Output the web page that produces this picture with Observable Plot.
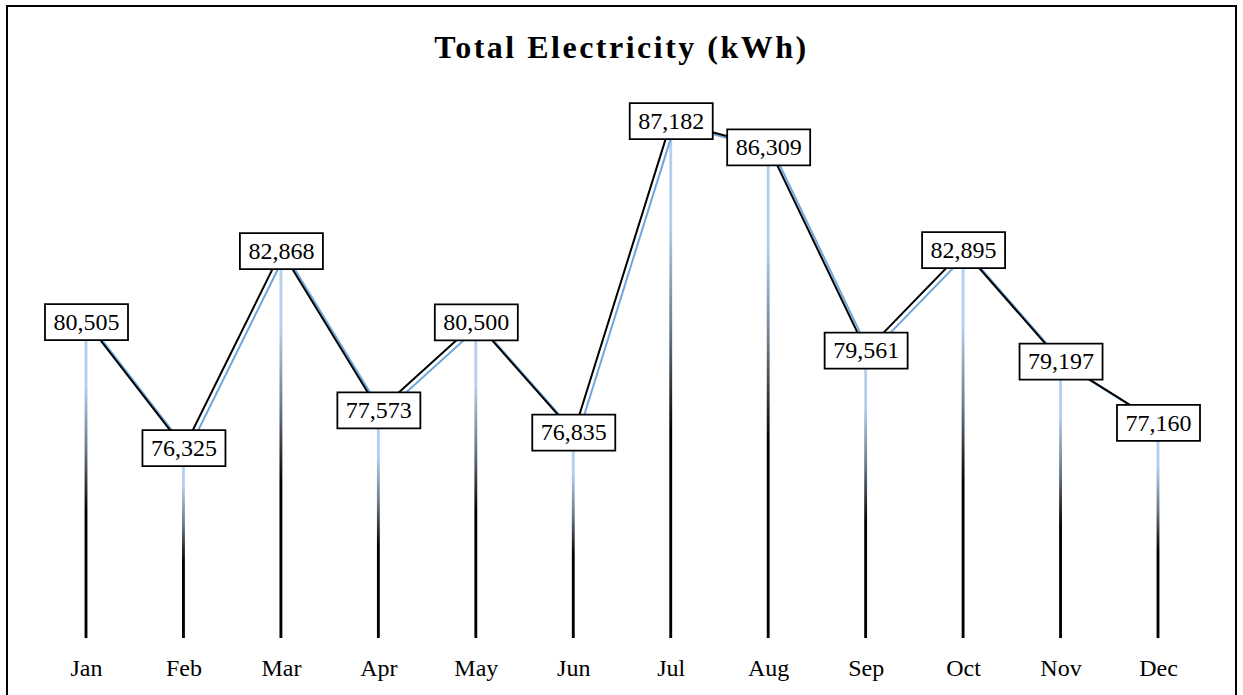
<!DOCTYPE html>
<html>
<head>
<meta charset="utf-8">
<script src="https://cdn.jsdelivr.net/npm/d3@7"></script>
<script src="https://cdn.jsdelivr.net/npm/@observablehq/plot@0.6"></script>
<style>
  html, body { margin: 0; padding: 0; background: #fff; }
  #wrap { position: relative; width: 1243px; height: 695px; overflow: hidden; }
  #frame { position: absolute; left: 6px; top: 5px; width: 1227px; height: 720px; border: 2px solid #000; box-sizing: content-box; pointer-events: none; }
  #title { position: absolute; left: 0; width: 1243px; top: 31px; line-height: 32px; text-align: center;
           font-family: "Liberation Serif", "Times New Roman", serif; font-weight: bold; font-size: 32px; letter-spacing: 2.5px; color: #000; }
  #chart { position: absolute; left: 0; top: 0; }
  #chart svg text { font-family: "Liberation Serif", "Times New Roman", serif; }
</style>
</head>
<body>
<div id="wrap">
  <div id="chart"></div>
  <div id="title">Total Electricity (kWh)</div>
  <div id="frame"></div>
</div>
<script>
const months = ["Jan", "Feb", "Mar", "Apr", "May", "Jun", "Jul", "Aug", "Sep", "Oct", "Nov", "Dec"];
const electricity = [80505, 76325, 82868, 77573, 80500, 76835, 87182, 86309, 79561, 82895, 79197, 77160];
const yDomain = [70000, 88000];

const data = months.map((m, i) => ({i, month: m, value: electricity[i]}));
const fmt = d3.format(",");
const serif = "'Liberation Serif', 'Times New Roman', serif";

const boxSymbol = {
  draw(context) {
    context.moveTo(-41.5, -18);
    context.lineTo(41.5, -18);
    context.lineTo(41.5, 18);
    context.lineTo(-41.5, 18);
    context.closePath();
  }
};

const defs = () => {
  const d = d3.create("svg:defs");
  const g = d.append("linearGradient").attr("id", "drop")
    .attr("x1", 0).attr("y1", 0).attr("x2", 0).attr("y2", 1);
  g.append("stop").attr("offset", 0).attr("stop-color", "#b3d1ef");
  g.append("stop").attr("offset", 0.2).attr("stop-color", "#b3d1ef");
  g.append("stop").attr("offset", 0.4).attr("stop-color", "#6c7b8a");
  g.append("stop").attr("offset", 0.6).attr("stop-color", "#000");
  g.append("stop").attr("offset", 1).attr("stop-color", "#000");
  return d.node();
};

const chart = Plot.plot({
  width: 1243,
  height: 695,
  marginLeft: 86,
  marginRight: 85,
  marginTop: 96,
  marginBottom: 57,
  style: {fontFamily: serif, fontSize: "24px", color: "#000", background: "transparent"},
  x: {domain: [0, 11], ticks: 12, tickFormat: i => months[i], tickSize: 0, tickPadding: 20, label: null},
  y: {domain: yDomain, axis: null},
  marks: [
    defs,
    Plot.rect(data, {x1: d => d.i - 0.5, x2: d => d.i + 0.5, y1: yDomain[0], y2: "value",
      insetLeft: 47.3, insetRight: 47.3, fill: "url(#drop)"}),
    Plot.line(data, {x: "i", y: "value", stroke: "#6ea7de", strokeWidth: 2, dx: 4, dy: 3}),
    Plot.line(data, {x: "i", y: "value", stroke: "#000", strokeWidth: 2}),
    Plot.dot(data, {x: "i", y: "value", symbol: boxSymbol, fill: "#fff", stroke: "#000", strokeWidth: 1.8}),
    Plot.text(data, {x: "i", y: "value", text: d => fmt(d.value), fontSize: 24, fontFamily: serif, fill: "#000"})
  ]
});
document.getElementById("chart").appendChild(chart);
</script>
</body>
</html>
